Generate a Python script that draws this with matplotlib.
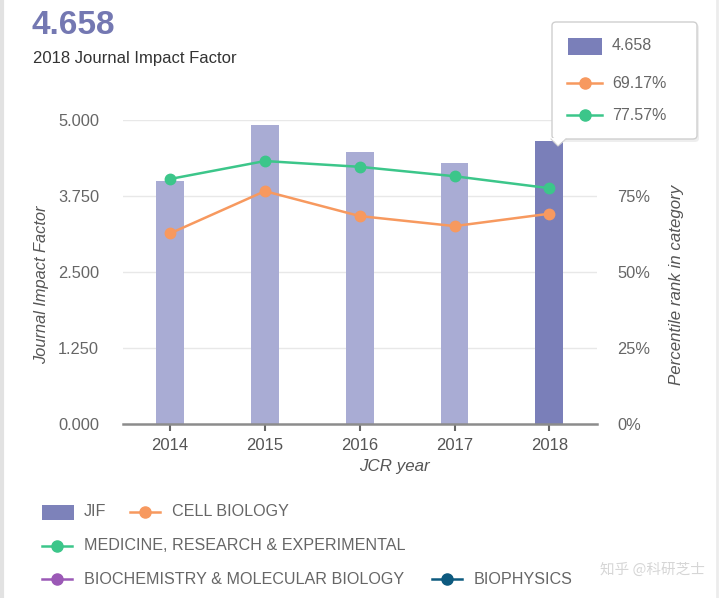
import numpy as np
import matplotlib
matplotlib.use('agg')
import matplotlib.pyplot as plt
from matplotlib.patches import Rectangle, FancyBboxPatch, Polygon
from matplotlib.lines import Line2D

plt.rcParams['font.family'] = ['Liberation Sans', 'DejaVu Sans']

# Data
years = ['2014', '2015', '2016', '2017', '2018']
jif = [4.00, 4.92, 4.48, 4.29, 4.658]
cell_biology = [62.7, 76.6, 68.4, 65.1, 69.17]
medicine = [80.6, 86.5, 84.6, 81.5, 77.57]
left_ticks = [0, 1.25, 2.5, 3.75, 5.0]
right_ticks = [0, 25, 50, 75]   # 100% sits under the tooltip

bar_light = '#a9acd4'
bar_dark = '#7a7fb9'
orange = '#f7995f'
green = '#3cc68a'
purple = '#9b59b6'
navy = '#0d5a7f'
grey_txt = '#666666'

W, H = 720, 598
fig = plt.figure(figsize=(7.2, 5.98), dpi=100)


def fx(px):
    return px / W


def fy(py):
    return 1 - py / H


ax = fig.add_axes([fx(122.7), fy(424), fx(596.7 - 122.7), 304 / H])
ax2 = ax.twinx()
ax.set_zorder(1)
ax2.set_zorder(2)
ax2.patch.set_visible(False)

x = np.arange(len(years))
colors = [bar_light] * (len(years) - 1) + [bar_dark]
ax.bar(x, jif, width=0.295, color=colors, zorder=2)
ax.set_xlim(-0.5, 4.5)
ax.set_ylim(0, 5)
ax.set_yticks(left_ticks)
ax.set_yticklabels(['{:.3f}'.format(v) for v in left_ticks])
for t in left_ticks[1:]:
    ax.axhline(t, color='#e8e8e8', lw=1, zorder=0)
ax.set_xticks(x)
ax.set_xticklabels(years)
ax.tick_params(axis='y', length=0, pad=17, labelsize=11.8, labelcolor=grey_txt)
ax.tick_params(axis='x', length=5, width=1.5, color='#666666', pad=5,
               labelsize=12, labelcolor='#555555')
for s in ['top', 'right', 'left']:
    ax.spines[s].set_visible(False)
ax.spines['bottom'].set_color('#8c8c8c')
ax.spines['bottom'].set_linewidth(1.8)

ax2.plot(x, cell_biology, color=orange, lw=1.8, marker='o', ms=7.5, zorder=3)
ax2.plot(x, medicine, color=green, lw=1.8, marker='o', ms=7.5, zorder=3)
ax2.set_ylim(0, 100)
ax2.set_yticks(right_ticks)
ax2.set_yticklabels(['{:d}%'.format(v) for v in right_ticks])
ax2.tick_params(axis='y', length=0, pad=15, labelsize=11.8, labelcolor=grey_txt)
for s in ax2.spines.values():
    s.set_visible(False)

# Axis titles
fig.text(fx(42), fy(285), 'Journal Impact Factor', rotation=90, style='italic',
         ha='center', va='center', fontsize=11.8, color='#555555')
fig.text(fx(676), fy(285), 'Percentile rank in category', rotation=90,
         style='italic', ha='center', va='center', fontsize=12.2,
         color='#555555')
fig.text(fx(394), fy(466), 'JCR year', style='italic', ha='center',
         va='center', fontsize=12.2, color='#555555')

# Header
fig.text(fx(32), fy(26), '{:.3f}'.format(jif[-1]), fontsize=24,
         fontweight='bold', color='#7478b2', ha='left', va='center')
fig.text(fx(33), fy(58), '{} Journal Impact Factor'.format(years[-1]),
         fontsize=12, color='#333333', ha='left', va='center')

# Page borders
fig.add_artist(Line2D([fx(2), fx(2)], [0, 1], color='#e2e2e2', lw=3))
fig.add_artist(Line2D([fx(717), fx(717)], [0, 1], color='#ececec', lw=2))

# Tooltip
shadow = FancyBboxPatch((fx(555), fy(142)), fx(697 - 553), (142 - 24) / H,
                        boxstyle='round,pad=0,rounding_size=0.006',
                        transform=fig.transFigure, fc='#e4e4e4', ec='none',
                        alpha=0.6, zorder=5)
fig.add_artist(shadow)
box = FancyBboxPatch((fx(552), fy(139)), fx(697 - 552), (139 - 22) / H,
                     boxstyle='round,pad=0,rounding_size=0.006',
                     transform=fig.transFigure, fc='white', ec='#cfcfcf',
                     lw=1, zorder=6)
fig.add_artist(box)
fig.add_artist(Polygon([[fx(551), fy(138)], [fx(566), fy(138)],
                        [fx(558), fy(146)]], closed=True,
                       transform=fig.transFigure, fc='white', ec='none',
                       zorder=7))
fig.add_artist(Line2D([fx(551), fx(558), fx(566)],
                      [fy(139), fy(146), fy(139)], color='#d4d4d4', lw=0.8,
                      zorder=7))
fig.add_artist(Rectangle((fx(568), fy(55)), fx(34), 17 / H,
                         transform=fig.transFigure, fc=bar_dark, ec='none',
                         zorder=8))
fig.text(fx(612), fy(46), '{:.3f}'.format(jif[-1]), fontsize=11.5,
         color=grey_txt, va='center', zorder=8)
for yy, col, val in [(83, orange, cell_biology[-1]), (115, green, medicine[-1])]:
    fig.add_artist(Line2D([fx(567), fx(602)], [fy(yy), fy(yy)], color=col,
                          lw=1.8, zorder=8))
    fig.add_artist(Line2D([fx(585)], [fy(yy)], color=col, marker='o', ms=8,
                          lw=0, zorder=9))
    fig.text(fx(612), fy(yy), '{:.2f}%'.format(val), fontsize=11.5,
             color=grey_txt, va='center', zorder=8)

# Bottom legend
fig.add_artist(Rectangle((fx(42), fy(520)), fx(32), 15 / H,
                         transform=fig.transFigure, fc='#7d82ba', ec='none'))
fig.text(fx(84), fy(512), 'JIF', fontsize=11.6, color=grey_txt, va='center')
legend_lines = [
    (130, 512, orange, 'CELL BIOLOGY'),
    (42, 546, green, 'MEDICINE, RESEARCH & EXPERIMENTAL'),
    (42, 579, purple, 'BIOCHEMISTRY & MOLECULAR BIOLOGY'),
    (432, 579, navy, 'BIOPHYSICS'),
]
for x0, yy, col, label in legend_lines:
    fig.add_artist(Line2D([fx(x0), fx(x0 + 30)], [fy(yy), fy(yy)], color=col,
                          lw=1.8))
    fig.add_artist(Line2D([fx(x0 + 15)], [fy(yy)], color=col, marker='o',
                          ms=8, lw=0))
    fig.text(fx(x0 + 42), fy(yy), label, fontsize=11.6, color=grey_txt,
             va='center')

# Watermark
fig.text(fx(600), fy(570), '知乎 @科研芝士', fontsize=10.5, color='#d6d6d6',
         va='center', family=['Noto Sans CJK SC', 'DejaVu Sans'])

fig.savefig('out.png', dpi=100)
